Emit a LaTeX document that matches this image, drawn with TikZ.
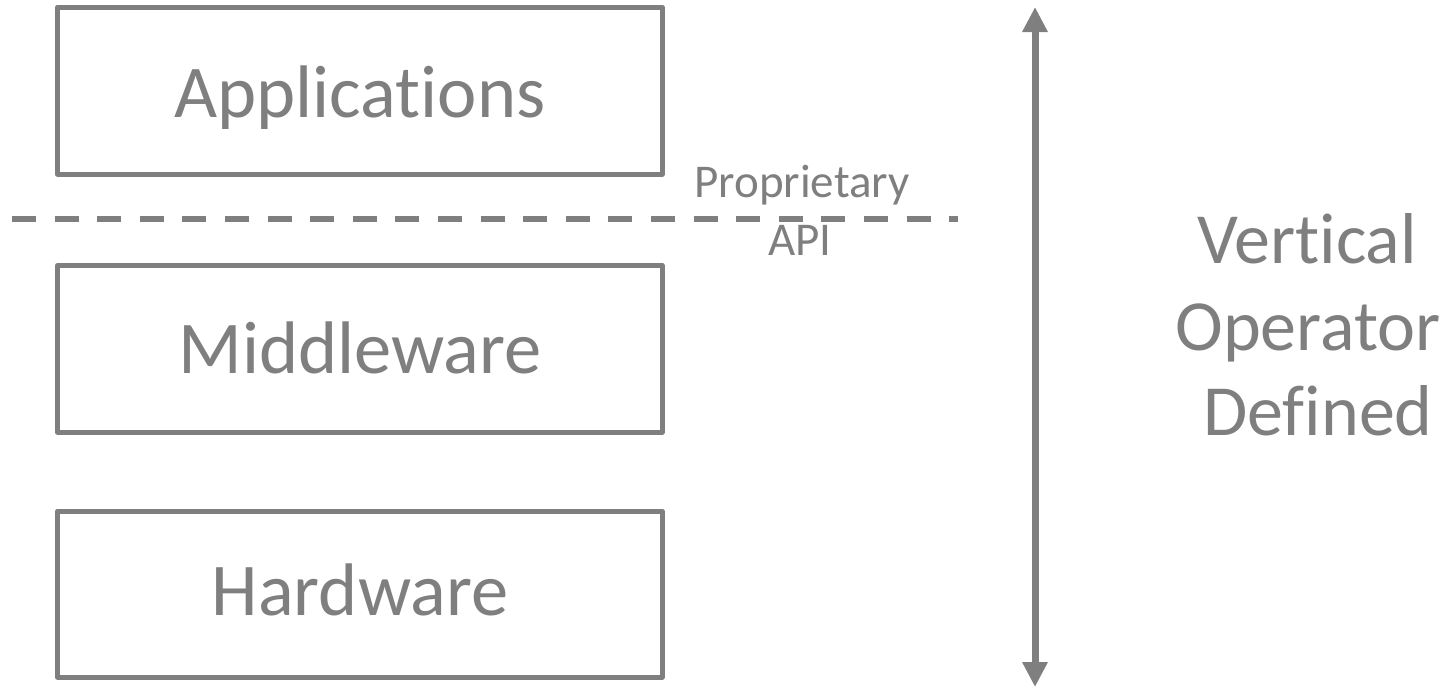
\documentclass[tikz,border=0pt]{standalone}
\usepackage{fontspec}
\setmainfont{Carlito}[Ligatures={NoCommon,NoContextual,NoRare}]
\usetikzlibrary{arrows.meta}
\definecolor{ink}{HTML}{7F7F7F}
\newcommand{\nolig}{\kern0pt{}}
\begin{document}
\begin{tikzpicture}[x=1pt,y=-1pt,
  layer/.style={draw=ink,line width=5pt,line join=round},
  big/.style={text=ink,font=\fontsize{74.5}{86}\selectfont,anchor=base,inner sep=0pt},
  side/.style={text=ink,font=\fontsize{72}{86}\selectfont,anchor=base,inner sep=0pt},
  small/.style={text=ink,font=\fontsize{47}{56}\selectfont,anchor=base,inner sep=0pt},
  apiline/.style={draw=ink,line width=5.5pt,dash pattern=on 24pt off 18.6pt},
  span/.style={draw=ink,line width=7pt,{Triangle[width=24pt,length=25pt]}-{Triangle[width=24pt,length=25pt]}}]
\useasboundingbox (0,0) rectangle (1452,688);
\draw[layer] (57.5,7) rectangle (662,174);
\draw[layer] (57.5,265.5) rectangle (662,432);
\draw[layer] (57.5,511) rectangle (662,677);
\node[big] (app) at (360,117) {Applicat\nolig ions};
\node[big] (mid) at (360,373) {Middleware};
\node[big] (hw) at (360,615) {Hardware};
\coordinate (dl) at (12,219);
\coordinate (dr) at (958,219);
\draw[apiline] (dl) -- (dr);
\node[small] (prop) at (802,197) {Proprietary};
\node[small] (api) at (800,255) {API};
\coordinate (at) at (1035,7);
\coordinate (ab) at (1035,687);
\draw[span] (at) -- (ab);
\node[side] (v1) at (1307,263) {Vert\nolig ical};
\node[side] (v2) at (1308,350) {Operator};
\node[side] (v3) at (1318,435) {Def\nolig ined};
\end{tikzpicture}
\end{document}
